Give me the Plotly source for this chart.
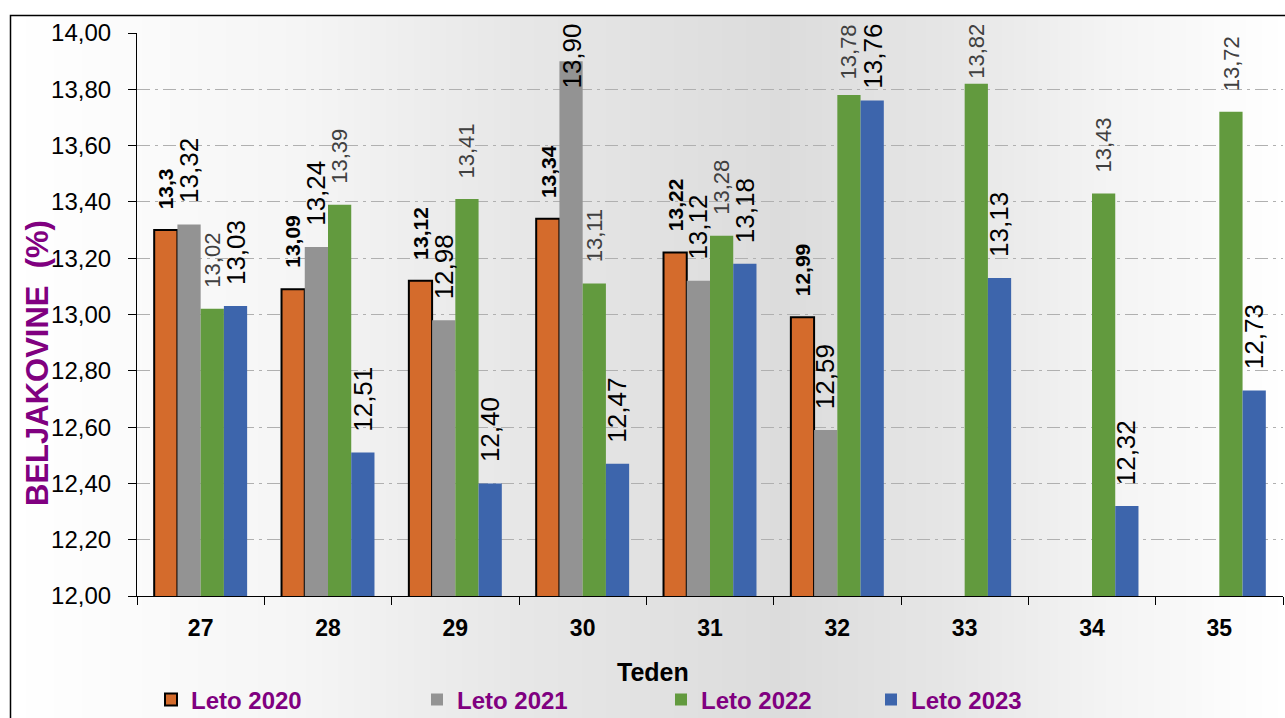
import plotly.graph_objects as go
import numpy as np

# ---------------- data ----------------
weeks = ["27", "28", "29", "30", "31", "32", "33", "34", "35"]
leto_2020 = [13.30, 13.09, 13.12, 13.34, 13.22, 12.99, None, None, None]
leto_2021 = [13.32, 13.24, 12.98, 13.90, 13.12, 12.59, None, None, None]
leto_2022 = [13.02, 13.39, 13.41, 13.11, 13.28, 13.78, 13.82, 13.43, 13.72]
leto_2023 = [13.03, 12.51, 12.40, 12.47, 13.18, 13.76, 13.13, 12.32, 12.73]
series_names = ["Leto 2020", "Leto 2021", "Leto 2022", "Leto 2023"]
y_tick_values = [12.0, 12.2, 12.4, 12.6, 12.8, 13.0, 13.2, 13.4, 13.6, 13.8, 14.0]
x_title = "Teden"
y_title = "BELJAKOVINE  (%)"

# ---------------- layout constants ----------------
FIG_W, FIG_H = 1285, 718
M_L, M_R, M_T, M_B = 137, 2, 33, 122
PW = FIG_W - M_L - M_R
PH = FIG_H - M_T - M_B
Y_MIN, Y_MAX = 12.0, 14.0
BARGAP = 0.27
FONT = "Arial, Liberation Sans, sans-serif"
PURPLE = "#800080"


def px_to_paper_x(px):
    return (px - M_L) / PW


def px_to_paper_y(py):
    return (FIG_H - M_B - py) / PH


series_values = [leto_2020, leto_2021, leto_2022, leto_2023]
series_colors = ["#D46B2C", "#939393", "#629A3E", "#3D65AC"]
series_line = [dict(color="black", width=2), dict(width=0), dict(width=0), dict(width=0)]
label_fonts = [
    dict(family=FONT, size=21, color="black", weight="bold"),
    dict(family=FONT, size=26, color="black"),
    dict(family=FONT, size=22, color="#404040"),
    dict(family=FONT, size=26, color="black"),
]
label_general = [True, False, False, False]
legend_ids = ["legend", "legend2", "legend3", "legend4"]
legend_text_px = [195, 461, 705, 915]


def fmt(v, general):
    s = f"{v:g}" if general else f"{v:.2f}"
    return s.replace(".", ",")


fig = go.Figure()
for vals, name, col, ln, lg in zip(series_values, series_names, series_colors,
                                    series_line, legend_ids):
    fig.add_trace(go.Bar(
        x=weeks, y=vals, name=name, legend=lg,
        marker=dict(color=col, line=ln),
        hoverinfo="x+y+name",
    ))

# ---------------- data labels (annotations) ----------------
annotations = []
slot_w = (1 - BARGAP) / len(series_values)
GAP = 20
TOP_LIMIT = 23
for si, (vals, fnt, gen) in enumerate(zip(series_values, label_fonts, label_general)):
    offset = (si - (len(series_values) - 1) / 2) * slot_w
    for ci, v in enumerate(vals):
        if v is None:
            continue
        txt = fmt(v, gen)
        em = sum(0.278 if ch == "," else 0.556 for ch in txt)
        length = em * fnt["size"]
        bar_top_px = M_T + (Y_MAX - v) / (Y_MAX - Y_MIN) * PH
        if bar_top_px - GAP - length < TOP_LIMIT:
            ya, yv, ys = "top", Y_MAX, M_T - TOP_LIMIT
        else:
            ya, yv, ys = "bottom", v, GAP
        annotations.append(dict(
            x=ci + offset, y=yv, xref="x", yref="y", text=txt, showarrow=False,
            textangle=-90, font=fnt, xanchor="center", yanchor=ya, yshift=ys,
            borderpad=0,
        ))

annotations.append(dict(
    x=px_to_paper_x(653), y=px_to_paper_y(672), xref="paper", yref="paper",
    text=f"<b>{x_title}</b>", showarrow=False,
    font=dict(family=FONT, size=25, color="black"),
    xanchor="center", yanchor="middle",
))
annotations.append(dict(
    x=px_to_paper_x(37), y=px_to_paper_y(363), xref="paper", yref="paper",
    text=f"<b>{y_title}</b>", showarrow=False, textangle=-90,
    font=dict(family=FONT, size=31, color=PURPLE),
    xanchor="center", yanchor="middle",
))

# ---------------- background gradient + frame ----------------
shapes = []
grad_x = [10, 300, 500, 780, 950, 1100, 1285]
grad_v = [255, 245, 232, 220, 230, 243, 255]
step = 4
for x0 in range(10, FIG_W, step):
    g = int(round(np.interp(x0 + step / 2, grad_x, grad_v)))
    shapes.append(dict(
        type="rect", xref="paper", yref="paper", layer="below",
        x0=px_to_paper_x(x0), x1=px_to_paper_x(x0 + step + 1),
        y0=px_to_paper_y(FIG_H + 10), y1=px_to_paper_y(15),
        fillcolor=f"rgb({g},{g},{g})", line=dict(width=0),
    ))
shapes.append(dict(
    type="rect", xref="paper", yref="paper", layer="below",
    x0=px_to_paper_x(10.5), x1=px_to_paper_x(FIG_W + 20),
    y0=px_to_paper_y(FIG_H + 20), y1=px_to_paper_y(15.5),
    fillcolor="rgba(0,0,0,0)", line=dict(color="black", width=1.5),
))

legend_common = dict(
    orientation="h", yanchor="middle", xanchor="left",
    y=px_to_paper_y(700), bgcolor="rgba(0,0,0,0)",
    font=dict(family=FONT, size=24, color=PURPLE, weight="bold"),
    itemwidth=30, tracegroupgap=0,
)
layout_legends = {}
for lg, tx in zip(legend_ids, legend_text_px):
    layout_legends[lg] = dict(legend_common, x=px_to_paper_x(tx - 44))

fig.update_layout(
    width=FIG_W, height=FIG_H,
    margin=dict(l=M_L, r=M_R, t=M_T, b=M_B, pad=0, autoexpand=False),
    paper_bgcolor="white", plot_bgcolor="rgba(0,0,0,0)",
    barmode="group", bargap=BARGAP, bargroupgap=0,
    separators=",.",
    showlegend=True,
    font=dict(family=FONT, color="black"),
    xaxis=dict(
        type="category", categoryorder="array", categoryarray=weeks,
        showline=True, linecolor="black", linewidth=1.2,
        ticks="outside", tickson="boundaries", ticklen=8, tickcolor="black",
        tickwidth=1.2,
        tickfont=dict(family=FONT, size=23, color="black", weight="bold"),
        ticklabelstandoff=11,
        showgrid=False, zeroline=False, automargin=False,
    ),
    yaxis=dict(
        range=[Y_MIN, Y_MAX], tickvals=y_tick_values, tickformat=".2f",
        showline=True, linecolor="black", linewidth=1.2,
        ticks="outside", ticklen=8, tickcolor="black", tickwidth=1.2,
        tickfont=dict(family=FONT, size=24, color="black"),
        ticklabelstandoff=12,
        showgrid=True, gridcolor="#B0B0B0", gridwidth=1,
        griddash="13px,5px,3px,5px",
        zeroline=False, automargin=False,
    ),
    annotations=annotations,
    shapes=shapes,
    **layout_legends,
)

fig.write_html(
    "out.html",
    config={"displayModeBar": False},
    post_script="document.body.style.margin='0';document.body.style.padding='0';"
                "document.body.style.overflow='hidden';",
)
